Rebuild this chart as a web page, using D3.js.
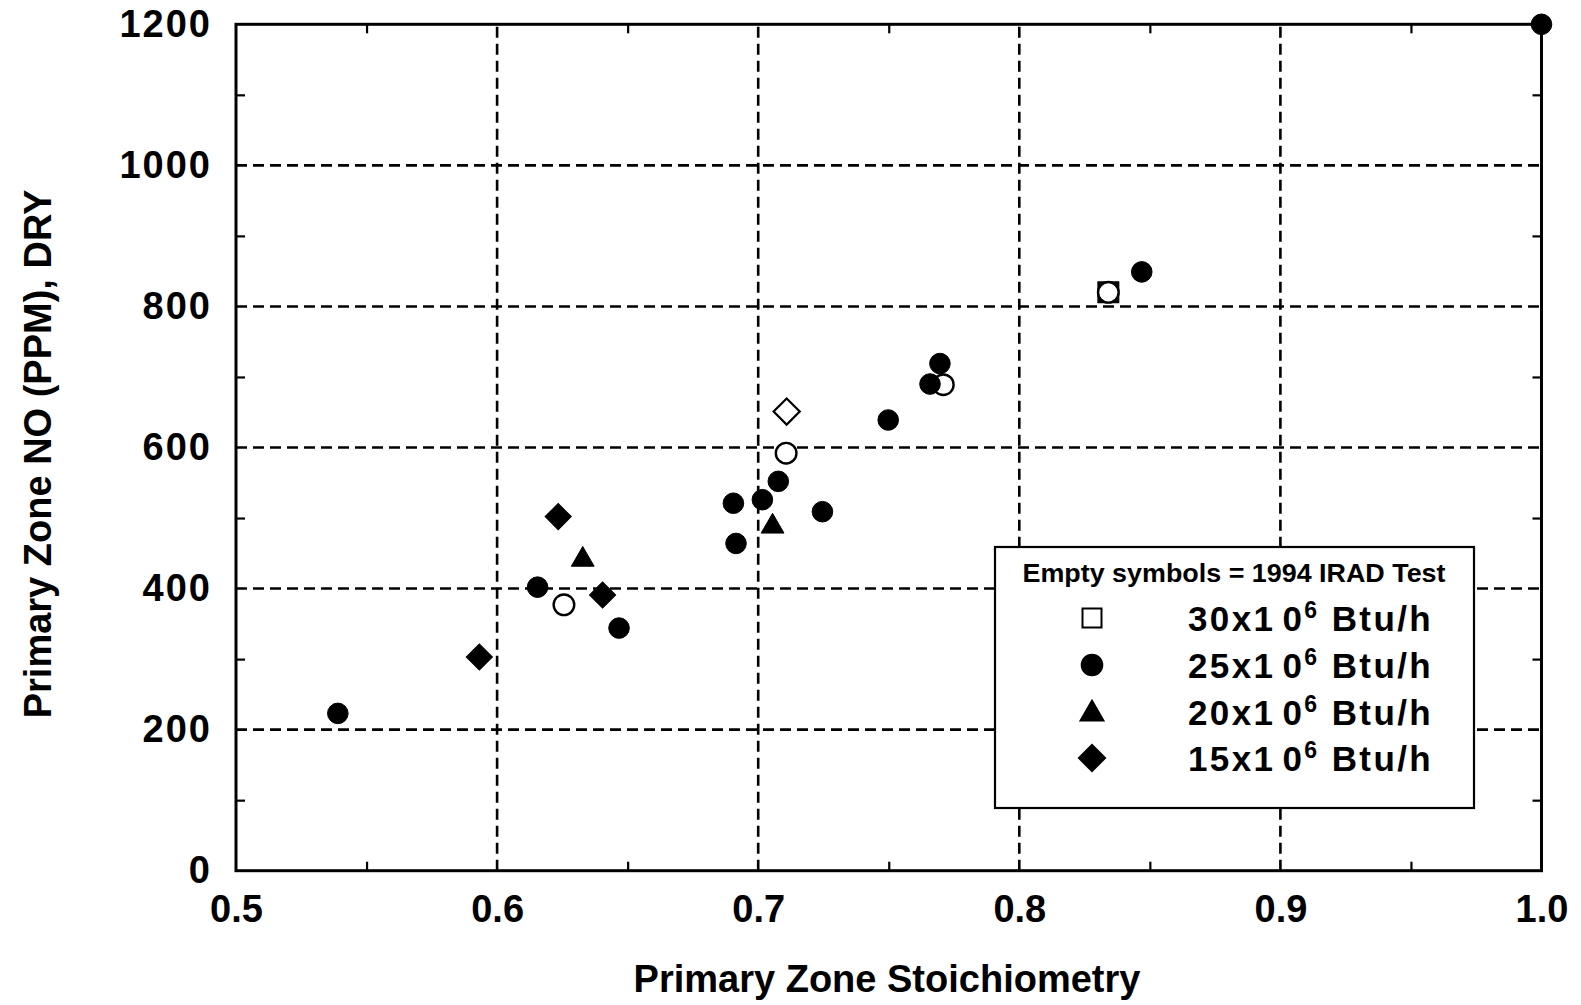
<!DOCTYPE html>
<html>
<head>
<meta charset="utf-8">
<script src="https://cdn.jsdelivr.net/npm/d3@7"></script>
<style>
  html, body { margin: 0; padding: 0; background: #fff; }
  svg { display: block; }
  text { font-family: "Liberation Sans", Arial, Helvetica, sans-serif; font-weight: bold; fill: #000; }
</style>
</head>
<body>
<svg id="chart" width="1581" height="1005"></svg>
<script>
// ---------- data ----------
const xTicks = [0.5, 0.6, 0.7, 0.8, 0.9, 1.0];
const yTicks = [0, 200, 400, 600, 800, 1000, 1200];
const xGrid = [0.6, 0.7, 0.8, 0.9];
const yGrid = [200, 400, 600, 800, 1000];
const xMinor = [0.55, 0.65, 0.75, 0.85, 0.95];
const yMinor = [100, 300, 500, 700, 900, 1100];

// 30x10^6 Btu/h, empty (1994 IRAD)
const sq30OpenX = [0.8341];
const sq30OpenY = [820];
// 25x10^6 Btu/h, filled
const circ25X = [0.539, 0.6155, 0.6467, 0.6905, 0.6915, 0.7016, 0.7077, 0.7246, 0.7498, 0.7658, 0.7696, 0.8469, 1.0];
const circ25Y = [223, 402, 344, 521, 464, 526, 552, 509, 639, 690, 719, 849, 1200];
// 25x10^6 Btu/h, empty
const circ25OpenX = [0.6256, 0.7107, 0.7709, 0.8341];
const circ25OpenY = [377, 592, 689, 820];
// 20x10^6 Btu/h, filled
const tri20X = [0.6328, 0.7055];
const tri20Y = [441, 488];
// 15x10^6 Btu/h, filled
const dia15X = [0.5932, 0.6234, 0.6404];
const dia15Y = [303, 502, 391];
// 15x10^6 Btu/h, empty
const dia15OpenX = [0.7109];
const dia15OpenY = [651];

const legendTitle = "Empty symbols = 1994 IRAD Test";
const legendLabels = ["30", "25", "20", "15"];

// ---------- chart ----------
const svg = d3.select("#chart");
const x = d3.scaleLinear().domain([0.5, 1.0]).range([236, 1541.5]);
const y = d3.scaleLinear().domain([0, 1200]).range([870.7, 24.3]);
const [x0, x1] = x.range();
const [yb, yt] = y.range();

// grid lines (dashed)
const grid = svg.append("g");
grid.selectAll("line.gx").data(xGrid).join("line")
  .attr("x1", d => x(d)).attr("x2", d => x(d))
  .attr("y1", yb).attr("y2", yt)
  .attr("stroke", "#000").attr("stroke-width", 2.6).attr("stroke-dasharray", "11,6");
grid.selectAll("line.gy").data(yGrid).join("line")
  .attr("x1", x0).attr("x2", x1)
  .attr("y1", d => y(d)).attr("y2", d => y(d))
  .attr("stroke", "#000").attr("stroke-width", 2.6).attr("stroke-dasharray", "11,6");

// minor ticks (inward) using axes
function styleTicks(g) {
  g.select(".domain").remove();
  g.selectAll("line").attr("stroke", "#000").attr("stroke-width", 2.2);
}
svg.append("g").attr("transform", `translate(0,${yb})`)
  .call(d3.axisBottom(x).tickValues(xMinor).tickSize(-9).tickFormat("")).call(styleTicks);
svg.append("g").attr("transform", `translate(0,${yt})`)
  .call(d3.axisTop(x).tickValues(xMinor).tickSize(-9).tickFormat("")).call(styleTicks);
svg.append("g").attr("transform", `translate(${x0},0)`)
  .call(d3.axisLeft(y).tickValues(yMinor).tickSize(-9).tickFormat("")).call(styleTicks);
svg.append("g").attr("transform", `translate(${x1},0)`)
  .call(d3.axisRight(y).tickValues(yMinor).tickSize(-9).tickFormat("")).call(styleTicks);

// frame
svg.append("rect").attr("x", x0).attr("y", yt).attr("width", x1 - x0).attr("height", yb - yt)
  .attr("fill", "none").attr("stroke", "#000").attr("stroke-width", 3);

// tick labels
const xAxisG = svg.append("g").attr("transform", `translate(0,${yb})`)
  .call(d3.axisBottom(x).tickValues(xTicks).tickSize(0).tickPadding(24).tickFormat(d3.format(".1f")));
xAxisG.select(".domain").remove();
xAxisG.selectAll("text").style("font-size", "38px");

const yAxisG = svg.append("g").attr("transform", `translate(${x0},0)`)
  .call(d3.axisLeft(y).tickValues(yTicks).tickSize(0).tickPadding(24).tickFormat(d3.format("d")));
yAxisG.select(".domain").remove();
yAxisG.selectAll("text").style("font-size", "38px").attr("letter-spacing", "2px");
svg.selectAll(".tick text").attr("font-family", null);

// axis titles
svg.append("text").attr("x", 887).attr("y", 992).attr("text-anchor", "middle")
  .style("font-size", "38px").text("Primary Zone Stoichiometry");
svg.append("text").attr("transform", "translate(51,454) rotate(-90)").attr("text-anchor", "middle")
  .style("font-size", "38px").text("Primary Zone NO (PPM), DRY");

// legend box
const lg = svg.append("g");
lg.append("rect").attr("x", 995).attr("y", 547).attr("width", 479).attr("height", 261)
  .attr("fill", "#fff").attr("stroke", "#000").attr("stroke-width", 2.2);
lg.append("text").attr("x", 1234).attr("y", 582).attr("text-anchor", "middle")
  .style("font-size", "25px").attr("textLength", 423).attr("lengthAdjust", "spacingAndGlyphs")
  .text(legendTitle);

// symbol generators
const circleSym = d3.symbol().type(d3.symbolCircle).size(Math.PI * 10.3 * 10.3)();
const squareSym = d3.symbol().type(d3.symbolSquare).size(19 * 19)();
const triSym = d3.symbol().type(d3.symbolTriangle).size(225)();
const diaSym = d3.symbol().type(d3.symbolSquare).size(18.5 * 18.5)();

const legendSyms = [
  {p: squareSym, fill: "#fff", rot: 0},
  {p: circleSym, fill: "#000", rot: 0},
  {p: triSym, fill: "#000", rot: 0},
  {p: diaSym, fill: "#000", rot: 45}
];
const rowY = [618, 665, 712, 758];
legendSyms.forEach((s, i) => {
  lg.append("path").attr("d", s.p)
    .attr("transform", `translate(1092,${rowY[i] + (i === 2 ? 2 : 0)}) rotate(${s.rot})`)
    .attr("fill", s.fill).attr("stroke", "#000").attr("stroke-width", 2);
  const t = lg.append("text").attr("x", 1188).attr("y", rowY[i] + 13)
    .style("font-size", "35px").attr("letter-spacing", "2.4px");
  t.append("tspan").text(legendLabels[i] + "x1");
  t.append("tspan").attr("dx", 7).text("0");
  t.append("tspan").attr("dy", -13).style("font-size", "23px").text("6");
  t.append("tspan").attr("dy", 13).text(" Btu/h");
});

// data markers
const marks = svg.append("g");
function plot(xs, ys, sym, fill, rot, sw) {
  marks.selectAll(null).data(xs.map((v, i) => [v, ys[i]])).join("path")
    .attr("d", sym)
    .attr("transform", d => `translate(${x(d[0])},${y(d[1])}) rotate(${rot})`)
    .attr("fill", fill).attr("stroke", "#000").attr("stroke-width", sw);
}
plot(sq30OpenX, sq30OpenY, squareSym, "#fff", 0, 3);
plot(circ25OpenX, circ25OpenY, circleSym, "#fff", 0, 2.4);
plot(dia15OpenX, dia15OpenY, diaSym, "#fff", 45, 2.2);
plot(circ25X, circ25Y, circleSym, "#000", 0, 1);
plot(tri20X, tri20Y, triSym, "#000", 0, 1);
plot(dia15X, dia15Y, diaSym, "#000", 45, 1);
</script>
</body>
</html>
